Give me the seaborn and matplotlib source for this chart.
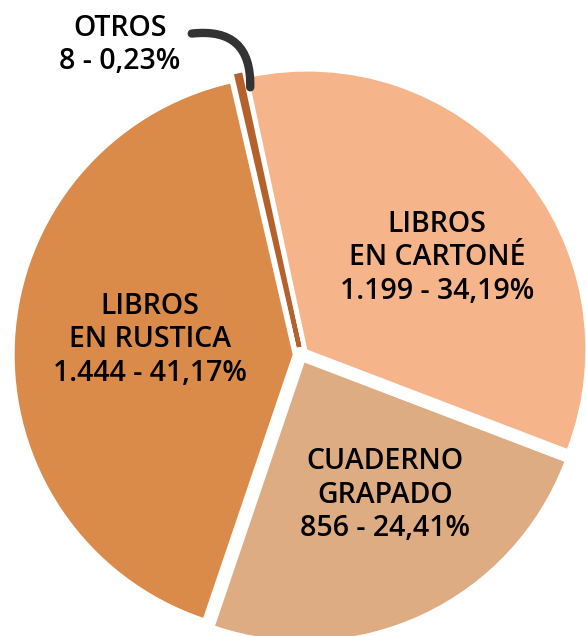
import matplotlib
matplotlib.use('Agg')
import matplotlib.pyplot as plt
import seaborn as sns

# Datos del gráfico (orden en sentido horario desde arriba)
categorias = ["OTROS", "LIBROS\nEN CARTONÉ", "CUADERNO\nGRAPADO", "LIBROS\nEN RUSTICA"]
valores = [8, 1199, 856, 1444]
porcentajes = ["0,23%", "34,19%", "24,41%", "41,17%"]
cantidades = ["8", "1.199", "856", "1.444"]
colores = ["#B4612B", "#F5B48A", "#DEAC83", "#DA8A49"]

sns.set_theme(style="white")
plt.rcParams['font.family'] = ['Open Sans', 'DejaVu Sans']

fig = plt.figure(figsize=(5.86, 6.36), dpi=100)
ax = fig.add_axes([0, 0, 1, 1])

wedges, _ = ax.pie(
    valores,
    colors=colores,
    startangle=103,
    counterclock=False,
    radius=1.0,
    explode=[0.03] * len(valores),
    wedgeprops=dict(linewidth=0),
)
# la porción "otros" es muy fina: darle un borde de su color para que se vea
wedges[0].set_edgecolor(colores[0])
wedges[0].set_linewidth(3.2)

estilo = dict(ha="center", va="center", fontsize=20.5, fontweight="semibold",
              color="black", linespacing=1.2)

# Posiciones de las etiquetas
pos = {1: (0.489, 0.349), 2: (0.302, -0.504), 3: (-0.543, 0.054)}
for i, (x, y) in pos.items():
    ax.text(x, y, f"{categorias[i]}\n{cantidades[i]} - {porcentajes[i]}", **estilo)

ax.text(-0.651, 1.115, f"{categorias[0]}\n{cantidades[0]} - {porcentajes[0]}", **estilo)
ax.annotate("", xy=(-0.183, 0.953), xytext=(-0.403, 1.155),
            arrowprops=dict(arrowstyle="-", color="#333333", lw=6,
                            connectionstyle="arc3,rad=-0.6",
                            capstyle="round"))

ax.set_xlim(-1.0827, 1.0252)
ax.set_ylim(-1.0108, 1.277)
ax.set_aspect("equal")
ax.axis("off")

fig.savefig("out.png", dpi=100)
plt.close(fig)
